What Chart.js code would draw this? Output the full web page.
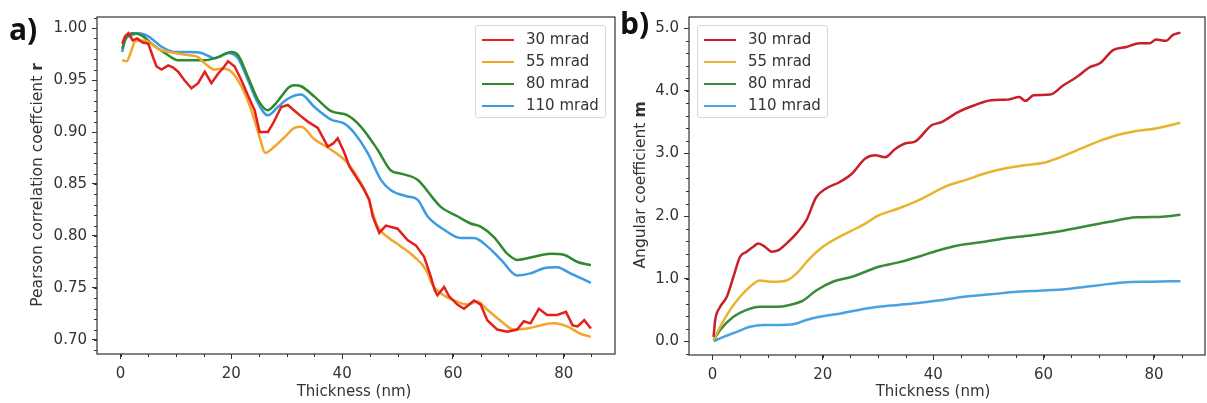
<!DOCTYPE html>
<html lang="en">
<head>
  <meta charset="UTF-8">
  <title>Pearson r and angular coefficient m vs thickness</title>
  <script src="https://cdn.jsdelivr.net/npm/chart.js"></script>
  <style>
    body { margin: 0; background: #fff; font-family: "DejaVu Sans", sans-serif; color: #333; }
    #wrap { position: relative; width: 1207px; height: 403px; overflow: hidden; }
    canvas { position: absolute; top: 0; }
    .tag { position: absolute; font: bold 30px "Open Sans", "DejaVu Sans", sans-serif; color: #111; }
    .xtitle { position: absolute; font-size: 15px; transform: translateX(-50%); white-space: nowrap; }
    .ytitle { position: absolute; font-size: 15.5px; white-space: nowrap; transform: translate(-50%, -50%) rotate(-90deg); }
    .legend { position: absolute; width: 129px; height: 91px; border: 1px solid #d8d8d8; border-radius: 3px; background: rgba(255,255,255,0.85); }
    .legend div { position: absolute; left: 0; font-size: 15px; line-height: 18px; white-space: nowrap; }
    .legend span { display: inline-block; width: 32px; height: 2px; margin: 0 12px 0 6px; vertical-align: middle; }
  </style>
</head>
<body>
<div id="wrap">
  <canvas id="chartA" width="620" height="403" style="left:0"></canvas>
  <canvas id="chartB" width="587" height="403" style="left:620px"></canvas>
  <div class="tag" style="left:9px;top:8px">a)</div>
  <div class="tag" style="left:620px;top:2px">b)</div>
  <div class="ytitle" style="left:37px;top:185px">Pearson correlation coeffcient <b>r</b></div>
  <div class="ytitle" style="left:640px;top:185px">Angular coefficient <b>m</b></div>
  <div class="xtitle" style="left:354px;top:382px">Thickness (nm)</div>
  <div class="xtitle" style="left:933px;top:382px">Thickness (nm)</div>
  <div class="legend" id="legA" style="left:475px;top:25px"></div>
  <div class="legend" id="legB" style="left:697px;top:25px"></div>
</div>

<script>
  // series names
  const labels = ['30 mrad', '55 mrad', '80 mrad', '110 mrad'];

  // panel a: Pearson correlation coefficient r, [thickness nm, r]
  const a30 = [[0.3,0.985],[0.8,0.992],[1.4,0.995],[2.2,0.988],[3,0.990],[4,0.986],[5,0.985],[6,0.970],[6.5,0.963],[7.4,0.960],[8.6,0.964],[9.5,0.962],[10.4,0.958],[11.5,0.950],[12.8,0.942],[14,0.947],[15.2,0.958],[16.4,0.947],[17.6,0.956],[18.6,0.962],[19.4,0.968],[20.6,0.963],[21.8,0.950],[23,0.935],[24.2,0.921],[25.1,0.900],[26.6,0.900],[27.5,0.908],[29,0.924],[30.2,0.926],[31.5,0.920],[32.6,0.915],[33.8,0.910],[35.6,0.904],[37.4,0.886],[38.4,0.889],[39.2,0.894],[40.4,0.880],[41.3,0.867],[43.7,0.847],[44.9,0.835],[45.5,0.819],[46.7,0.803],[47.9,0.810],[50,0.807],[51.8,0.796],[53.3,0.791],[54.8,0.780],[56,0.761],[56.7,0.748],[57.2,0.743],[58.4,0.751],[59.3,0.742],[60.8,0.734],[62,0.730],[63.8,0.738],[65,0.734],[66.2,0.719],[68,0.710],[69.8,0.708],[71.6,0.710],[72.8,0.718],[74,0.716],[75.5,0.730],[77,0.724],[78.8,0.724],[80.4,0.727],[81.6,0.714],[82.5,0.713],[83.7,0.719],[84.9,0.711]];
  const a55 = [[0.3,0.969],[1.1,0.968],[2,0.979],[2.6,0.987],[3.8,0.988],[5,0.987],[6.8,0.980],[9.8,0.976],[12.2,0.974],[14,0.972],[15.2,0.966],[17,0.960],[18.2,0.961],[20,0.958],[21.8,0.944],[23.6,0.921],[25.1,0.895],[26.1,0.880],[27.8,0.886],[29.6,0.895],[31.4,0.904],[32.6,0.905],[35,0.893],[38,0.883],[41,0.870],[43.4,0.851],[44.6,0.838],[45.2,0.828],[46.4,0.809],[48.2,0.799],[50.6,0.790],[53,0.780],[55.2,0.767],[56.3,0.753],[57.8,0.745],[60.2,0.738],[62.6,0.734],[64.4,0.737],[66.2,0.729],[68.7,0.718],[71,0.710],[73.4,0.711],[75.8,0.714],[78.2,0.716],[80.6,0.713],[83,0.706],[84.9,0.703]];
  const a80 = [[0.3,0.980],[1.1,0.992],[2.3,0.995],[3.8,0.993],[5.6,0.985],[8,0.976],[10.4,0.969],[12.8,0.969],[15.2,0.969],[17.6,0.972],[20,0.977],[21.2,0.974],[23,0.953],[24.8,0.931],[26.6,0.921],[27.6,0.925],[29,0.934],[30.4,0.943],[31.4,0.945],[32.6,0.944],[35,0.934],[38,0.920],[41,0.916],[43.4,0.905],[46.4,0.883],[48.8,0.863],[50.6,0.860],[53.6,0.854],[56.6,0.835],[57.8,0.828],[60.8,0.819],[63.2,0.812],[65,0.809],[67.4,0.799],[69.8,0.783],[71.6,0.777],[74.6,0.780],[77.6,0.783],[80,0.782],[82.5,0.775],[84.9,0.772]];
  const a110 = [[0.3,0.977],[0.8,0.988],[2,0.993],[3.2,0.995],[5,0.992],[7.4,0.982],[9.8,0.977],[12.2,0.977],[14.6,0.976],[17,0.971],[19.4,0.976],[21.2,0.971],[23,0.950],[24.8,0.928],[26.6,0.916],[28.4,0.924],[30.2,0.932],[32.6,0.936],[35,0.924],[38,0.912],[40.4,0.908],[42.2,0.899],[44.6,0.880],[47,0.854],[48.8,0.844],[51.8,0.838],[53.6,0.835],[55.4,0.819],[58.4,0.806],[61.4,0.798],[63.8,0.798],[66.2,0.790],[68.7,0.777],[71.6,0.762],[74,0.764],[76.4,0.769],[78.8,0.770],[81.2,0.764],[84.9,0.755]];

  // panel b: angular coefficient m, [thickness nm, m]
  const b30 = [[0.2,0.07],[0.5,0.34],[1.4,0.55],[2.6,0.71],[3.8,1.03],[5,1.35],[6.2,1.43],[7.4,1.51],[8.3,1.56],[9.5,1.51],[10.7,1.43],[11.9,1.45],[13.4,1.56],[15.2,1.72],[17,1.93],[18.8,2.3],[20.6,2.44],[23,2.54],[25.3,2.68],[27.7,2.92],[29.5,2.97],[31.3,2.94],[33.1,3.07],[34.9,3.16],[36.7,3.19],[39.7,3.45],[41.5,3.5],[44.5,3.66],[47.5,3.77],[50.5,3.85],[53.5,3.86],[55.6,3.9],[56.7,3.84],[58.2,3.93],[61.2,3.94],[63.6,4.09],[66,4.22],[68.4,4.38],[70.2,4.44],[72.6,4.65],[75,4.7],[77.4,4.76],[79.2,4.76],[80.4,4.82],[82.2,4.8],[83.4,4.89],[84.8,4.93]];
  const b55 = [[0.2,0.02],[1.4,0.23],[3.2,0.5],[5,0.71],[6.8,0.87],[8.6,0.97],[11,0.95],[13.4,0.97],[15.2,1.08],[17.6,1.32],[20,1.51],[22.4,1.64],[25.3,1.77],[27.7,1.88],[30.1,2.01],[33.7,2.12],[37.3,2.25],[39.7,2.36],[42.7,2.49],[45.7,2.57],[49.3,2.68],[52.9,2.76],[56.4,2.81],[60,2.85],[62.4,2.92],[66,3.05],[69.6,3.18],[73.2,3.29],[76.8,3.36],[80.4,3.4],[84.8,3.49]];
  const b80 = [[0.2,0.02],[1.4,0.18],[3.8,0.39],[6.2,0.5],[8.6,0.55],[11.6,0.55],[14,0.58],[16.4,0.65],[18.8,0.81],[21.8,0.95],[25.3,1.03],[27.7,1.11],[30.1,1.19],[33.7,1.26],[37.3,1.35],[40.9,1.45],[44.5,1.53],[49.3,1.59],[52.9,1.64],[57.6,1.69],[62.4,1.75],[67.2,1.83],[72,1.91],[76.8,1.98],[81.6,1.99],[84.8,2.02]];
  const b110 = [[0.2,0],[2,0.07],[4.4,0.15],[6.8,0.23],[9.2,0.26],[12.2,0.26],[14.6,0.27],[17,0.34],[19.4,0.39],[23,0.44],[26.5,0.5],[30.1,0.55],[33.7,0.58],[37.3,0.61],[40.9,0.65],[45.7,0.71],[50.5,0.75],[55.2,0.79],[60,0.81],[64.8,0.84],[69.6,0.89],[74.4,0.94],[79.2,0.95],[84.8,0.96]];

  const colorsA = ['#e3201c', '#f2a52a', '#2f8a2f', '#3a9be0'];
  const colorsB = ['#c8202a', '#e8b430', '#3a8a3a', '#4aa2e2'];

  const axisColor = '#333';

  // full box round the plot + matplotlib-like minor ticks
  const framePlugin = {
    id: 'frame',
    afterDraw(chart, args, opts) {
      const { ctx, chartArea: a, scales } = chart;
      ctx.save();
      ctx.strokeStyle = axisColor;
      ctx.lineWidth = 1.2;
      ctx.strokeRect(a.left, a.top, a.right - a.left, a.bottom - a.top);
      ctx.lineWidth = 1;
      const x = scales.x, y = scales.y;
      for (let v = Math.ceil(x.min / opts.minorX) * opts.minorX; v <= x.max; v += opts.minorX) {
        const px = Math.round(x.getPixelForValue(v)) + 0.5;
        ctx.beginPath(); ctx.moveTo(px, a.bottom); ctx.lineTo(px, a.bottom + 3); ctx.stroke();
      }
      const n0 = Math.ceil(y.min / opts.minorY), n1 = Math.floor(y.max / opts.minorY);
      for (let n = n0; n <= n1; n++) {
        const py = Math.round(y.getPixelForValue(n * opts.minorY)) + 0.5;
        ctx.beginPath(); ctx.moveTo(a.left, py); ctx.lineTo(a.left - 3, py); ctx.stroke();
      }
      ctx.restore();
    }
  };

  function makeChart(id, series, colors, cfg) {
    return new Chart(document.getElementById(id), {
      type: 'line',
      data: {
        datasets: series.map((s, i) => ({
          label: labels[i],
          data: s.map(p => ({ x: p[0], y: p[1] })),
          borderColor: colors[i],
          borderWidth: 2.5,
          pointRadius: 0,
          fill: false,
          tension: cfg.tension[i],
          cubicInterpolationMode: cfg.tension[i] > 0 ? 'monotone' : 'default'
        }))
      },
      options: {
        responsive: false,
        animation: false,
        devicePixelRatio: 1,
        layout: { padding: { top: 17, right: cfg.padRight, left: 0, bottom: 0 } },
        plugins: {
          legend: { display: false },
          tooltip: { enabled: false },
          frame: { minorX: 5, minorY: cfg.minorY }
        },
        scales: {
          x: {
            type: 'linear',
            min: -4.25, max: 89.25,
            border: { display: false },
            grid: { drawOnChartArea: false, drawTicks: true, tickLength: 5, color: axisColor },
            ticks: { stepSize: 20, includeBounds: false, padding: 6, color: '#333', font: { family: 'DejaVu Sans', size: 15 } },
            afterFit: s => { s.height = cfg.xHeight; }
          },
          y: {
            min: cfg.yMin, max: cfg.yMax,
            border: { display: false },
            grid: { drawOnChartArea: false, drawTicks: true, tickLength: 5, color: axisColor },
            ticks: {
              stepSize: cfg.yStep, includeBounds: false, padding: 5, color: '#333',
              font: { family: 'DejaVu Sans', size: 15 },
              callback: v => Number(v).toFixed(cfg.digits)
            },
            afterFit: s => { s.width = cfg.yWidth; }
          }
        }
      },
      plugins: [framePlugin]
    });
  }

  makeChart('chartA', [a30, a55, a80, a110], colorsA, {
    yMin: 0.6865, yMax: 1.0106, yStep: 0.05, digits: 2, minorY: 0.01,
    yWidth: 97, xHeight: 49, padRight: 5, tension: [0, 0.4, 0.4, 0.4]
  });
  makeChart('chartB', [b30, b55, b80, b110], colorsB, {
    yMin: -0.22, yMax: 5.18, yStep: 1, digits: 1, minorY: 0.2,
    yWidth: 69, xHeight: 48, padRight: 2, tension: [0.4, 0.4, 0.4, 0.4]
  });

  // legends
  function buildLegend(id, colors) {
    const box = document.getElementById(id);
    labels.forEach((name, i) => {
      const row = document.createElement('div');
      row.style.top = (4 + i * 22) + 'px';
      row.innerHTML = `<span style="background:${colors[i]}"></span>${name}`;
      box.appendChild(row);
    });
  }
  buildLegend('legA', colorsA);
  buildLegend('legB', colorsB);
</script>
</body>
</html>
